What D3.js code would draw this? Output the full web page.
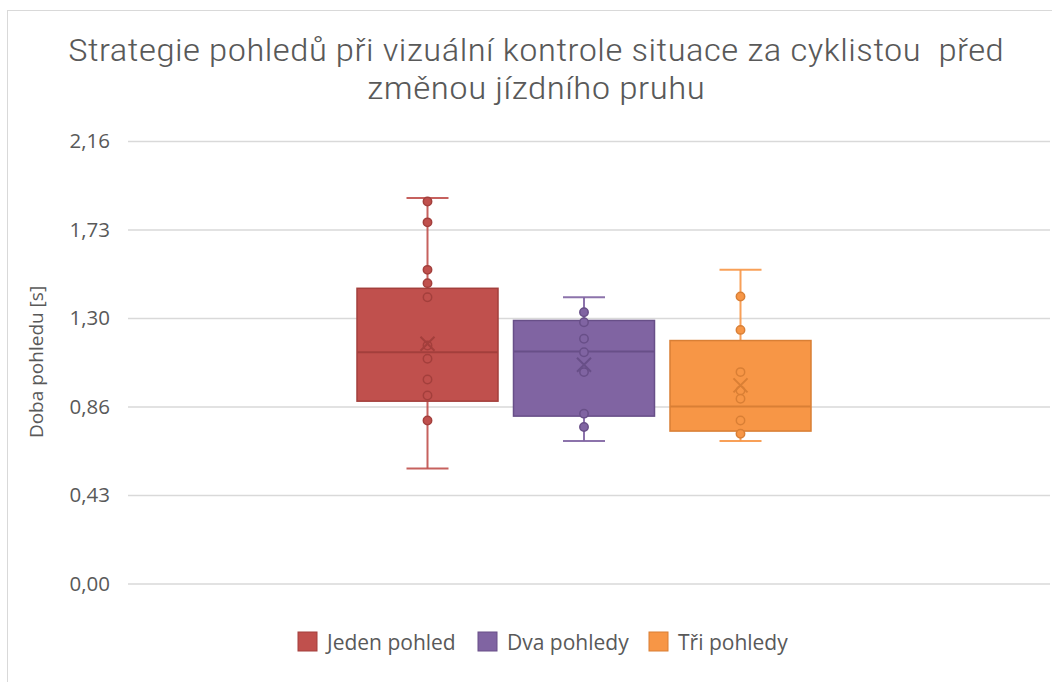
<!DOCTYPE html>
<html><head><meta charset="utf-8">
<script src="https://cdn.jsdelivr.net/npm/d3@7/dist/d3.min.js"></script>
<style>
html,body{margin:0;padding:0;background:#fff;}
svg{display:block;}
</style></head>
<body>
<script>
const titleLines = ["Strategie pohledů při vizuální kontrole situace za cyklistou  před", "změnou jízdního pruhu"];
const yAxisTitle = "Doba pohledu [s]";
const series = ["Jeden pohled", "Dva pohledy", "Tři pohledy"];
const fills = ["#C0504D", "#8064A2", "#F79646"];
const strokes = ["#A33F3C", "#684F88", "#D97F35"];
const whiskerMin = [0.561, 0.695, 0.695];
const q1 = [0.890, 0.817, 0.744];
const median = [1.129, 1.133, 0.864];
const q3 = [1.441, 1.284, 1.186];
const whiskerMax = [1.882, 1.397, 1.531];
const mean = [1.170, 1.068, 0.967];
const points = [
  [1.865, 1.763, 1.531, 1.466, 1.397, 1.162, 1.097, 0.996, 0.918, 0.796],
  [1.324, 1.275, 1.195, 1.129, 1.032, 0.829, 0.764],
  [1.401, 1.238, 1.032, 0.942, 0.902, 0.796, 0.731]
];
const yTicks = [0, 0.432, 0.864, 1.296, 1.728, 2.16];
const yMax = 2.16;

const W = 1052, H = 682;
const svg = d3.select("body").append("svg").attr("width", W).attr("height", H);

// chart frame
svg.append("rect").attr("x", 7.5).attr("y", 10.5).attr("width", W + 10).attr("height", H + 10)
  .attr("fill", "#fff").attr("stroke", "#d9d9d9").attr("stroke-width", 1);

const plot = {left: 128, right: 1050, top: 141, bottom: 583.5};
const y = d3.scaleLinear().domain([0, yMax]).range([plot.bottom, plot.top]);
const x = d3.scaleBand().domain(series).range([357, 811]).paddingInner(0.099).paddingOuter(0);

const fontMain = "'Liberation Sans Narrow', 'Roboto Condensed', 'Roboto', sans-serif";
const fontText = "'Open Sans', 'Noto Sans', sans-serif";

// title
const title = svg.append("text").attr("text-anchor", "middle")
  .attr("fill", "#595959").style("font-family", fontMain).style("font-size", "31px")
  .style("font-weight", 300).style("white-space", "pre");
title.append("tspan").attr("x", 536).attr("y", 61).text(titleLines[0])
  .attr("textLength", 936).attr("lengthAdjust", "spacingAndGlyphs");
title.append("tspan").attr("x", 536).attr("y", 99).text(titleLines[1])
  .attr("textLength", 338).attr("lengthAdjust", "spacingAndGlyphs");

// grid
const axis = d3.axisLeft(y).tickValues(yTicks).tickSize(-(plot.right - plot.left)).tickPadding(18)
  .tickFormat(d => d3.format(".2f")(d).replace(".", ","));
const g = svg.append("g").attr("transform", `translate(${plot.left},0)`).call(axis);
g.select(".domain").remove();
g.selectAll(".tick line").attr("stroke", "#d9d9d9").attr("stroke-width", 1.5);
g.selectAll(".tick text").attr("fill", "#595959").style("font-family", fontText).style("font-size", "20.5px");

// axis title
svg.append("text").attr("transform", `translate(43,362) rotate(-90)`).attr("text-anchor", "middle")
  .attr("fill", "#595959").style("font-family", fontText).style("font-size", "19px").text(yAxisTitle);

// boxes
series.forEach((s, i) => {
  const gx = x(s), bw = x.bandwidth(), cx = gx + bw / 2;
  const gg = svg.append("g");
  gg.append("line").attr("x1", cx).attr("x2", cx).attr("y1", y(whiskerMax[i])).attr("y2", y(q3[i]))
    .attr("stroke", fills[i]).attr("stroke-width", 2).attr("stroke-opacity", 0.9);
  gg.append("line").attr("x1", cx).attr("x2", cx).attr("y1", y(q1[i])).attr("y2", y(whiskerMin[i]))
    .attr("stroke", fills[i]).attr("stroke-width", 2).attr("stroke-opacity", 0.9);
  [whiskerMax[i], whiskerMin[i]].forEach(v => {
    gg.append("line").attr("x1", cx - 21).attr("x2", cx + 21).attr("y1", y(v)).attr("y2", y(v))
      .attr("stroke", fills[i]).attr("stroke-width", 2).attr("stroke-opacity", 0.9);
  });
  gg.append("rect").attr("x", gx).attr("width", bw).attr("y", y(q3[i])).attr("height", y(q1[i]) - y(q3[i]))
    .attr("fill", fills[i]).attr("stroke", strokes[i]).attr("stroke-width", 1.5);
  gg.append("line").attr("x1", gx).attr("x2", gx + bw).attr("y1", y(median[i])).attr("y2", y(median[i]))
    .attr("stroke", strokes[i]).attr("stroke-width", 2);
  gg.selectAll("circle").data(points[i]).join("circle")
    .attr("cx", cx).attr("cy", d => y(d)).attr("r", 4.2)
    .attr("fill", fills[i]).attr("stroke", strokes[i]).attr("stroke-width", 1.5);
  const my = y(mean[i]), m = 7;
  gg.append("path").attr("d", `M${cx - m},${my - m}L${cx + m},${my + m}M${cx - m},${my + m}L${cx + m},${my - m}`)
    .attr("stroke", strokes[i]).attr("stroke-width", 2).attr("fill", "none");
});

// legend
const legendX = [298, 478, 649];
series.forEach((s, i) => {
  svg.append("rect").attr("x", legendX[i]).attr("y", 632).attr("width", 19).attr("height", 19)
    .attr("fill", fills[i]).attr("stroke", strokes[i]).attr("stroke-width", 1);
  svg.append("text").attr("x", legendX[i] + 29).attr("y", 649.5).attr("fill", "#595959")
    .style("font-family", fontText).style("font-size", "21px").text(s);
});
</script>
</body></html>
